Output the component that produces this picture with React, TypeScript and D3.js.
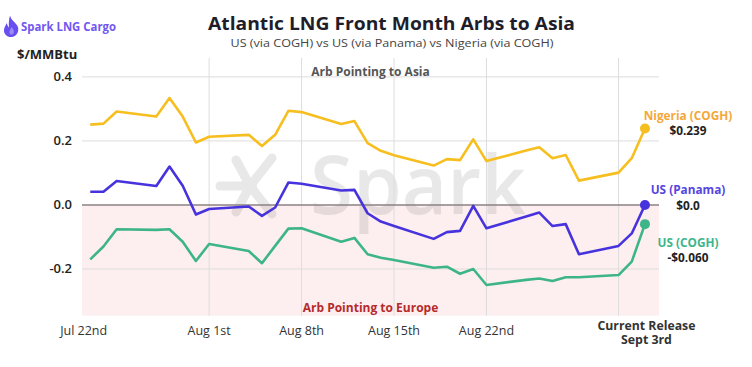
import React from "react";
import * as d3 from "d3";

const dates = ["2025-07-23","2025-07-24","2025-07-25","2025-07-28","2025-07-29","2025-07-30","2025-07-31","2025-08-01","2025-08-04","2025-08-05","2025-08-06","2025-08-07","2025-08-08","2025-08-11","2025-08-12","2025-08-13","2025-08-14","2025-08-15","2025-08-18","2025-08-19","2025-08-20","2025-08-21","2025-08-22","2025-08-25","2025-08-26","2025-08-27","2025-08-28","2025-08-29","2025-09-01","2025-09-02","2025-09-03"];
const nigeriaCOGH = [0.251,0.254,0.292,0.276,0.334,0.276,0.195,0.213,0.219,0.184,0.219,0.294,0.29,0.253,0.262,0.193,0.169,0.155,0.123,0.143,0.14,0.205,0.137,0.17,0.18,0.146,0.156,0.076,0.101,0.146,0.239];
const usPanama = [0.041,0.041,0.075,0.059,0.12,0.06,-0.03,-0.0125,-0.005,-0.034,-0.008,0.07,0.066,0.045,0.047,-0.026,-0.052,-0.066,-0.106,-0.085,-0.081,-0.003,-0.073,-0.036,-0.024,-0.066,-0.06,-0.154,-0.128,-0.089,0.0];
const usCOGH = [-0.17,-0.13,-0.076,-0.078,-0.076,-0.115,-0.175,-0.122,-0.144,-0.182,-0.128,-0.074,-0.073,-0.115,-0.103,-0.154,-0.165,-0.172,-0.196,-0.193,-0.215,-0.2,-0.25,-0.234,-0.23,-0.2375,-0.226,-0.226,-0.219,-0.177,-0.06];

const seriesNames = ["Nigeria (COGH)", "US (Panama)", "US (COGH)"];
const seriesValueLabels = ["$0.239", "$0.0", "-$0.060"];
const yTicks = [0.4, 0.2, 0.0, -0.2];
const yTickLabels = ["0.4", "0.2", "0.0", "-0.2"];
const gridDates = ["2025-08-01","2025-08-08","2025-08-15","2025-08-22","2025-09-01"];
const xTickDates = ["2025-07-22T12:00","2025-08-01","2025-08-08","2025-08-15","2025-08-22"];
const xTickLabels = ["Jul 22nd","Aug 1st","Aug 8th","Aug 15th","Aug 22nd"];
const currentReleaseDate = "2025-09-03";
const currentReleaseLabel = ["Current Release", "Sept 3rd"];

const FONT = "'Open Sans', 'Noto Sans', sans-serif";
const parse = (s: string) => new Date(s.length > 10 ? s + ":00Z" : s + "T00:00:00Z");

const styles = [
  { line: "#F6BE1E", label: "#F4A73A", nameDy: -8.5, valueDy: 6.7 },
  { line: "#4733DD", label: "#5546E0", nameDy: -10.7, valueDy: 5 },
  { line: "#3EB489", label: "#3DB58A", nameDy: 23, valueDy: 38 },
];

export default function App() {
  const W = 752, H = 367;
  const left = 82, right = 659, top = 58, bottom = 315.7;
  const x = d3.scaleUtc()
    .domain([new Date(Date.UTC(2025, 6, 22, 9)), new Date(Date.UTC(2025, 8, 4, 1, 30))])
    .range([left, right]);
  const y = d3.scaleLinear().domain([-0.346, 0.459]).range([bottom, top]);
  const series = [nigeriaCOGH, usPanama, usCOGH];
  const parsed = dates.map(parse);
  const line = d3.line<number>().x((_, i) => x(parsed[i])).y((v) => y(v));
  const last = dates.length - 1;
  const midX = (left + right) / 2;
  const crX = x(parse(currentReleaseDate)) + 1.5;

  return (
    <svg width={W} height={H} style={{ position: "absolute", left: 0, top: 0, background: "#fff" }} fontFamily={FONT}>
      {/* pink region below zero */}
      <rect x={left} y={y(0)} width={right - left} height={bottom - y(0)} fill="#FDEFEF" />
      {/* watermark */}
      <g opacity={0.085} fill="#000" stroke="#000">
        <g strokeWidth={9} strokeLinecap="round" fill="none">
          <line x1={250} y1={186} x2={220} y2={186} />
          <line x1={250} y1={186} x2={236} y2={160} />
          <line x1={250} y1={186} x2={236} y2={212} />
          <line x1={250} y1={186} x2={272} y2={158} />
          <line x1={250} y1={186} x2={272} y2={214} />
        </g>
        <circle cx={250} cy={186} r={7} stroke="none" />
        <text x={310} y={214} fontSize={82} fontWeight={600} stroke="none" textLength={216} lengthAdjust="spacingAndGlyphs">Spark</text>
      </g>
      {/* horizontal grid */}
      {yTicks.filter((t) => t !== 0).map((t) => (
        <line key={t} x1={left} x2={right} y1={y(t)} y2={y(t)} stroke="#DDDDDD" strokeWidth={1} />
      ))}
      {/* vertical grid */}
      {gridDates.map((d) => (
        <line key={d} x1={x(parse(d))} x2={x(parse(d))} y1={top} y2={bottom} stroke="#DDDDDD" strokeWidth={1} />
      ))}
      {/* zero line */}
      <line x1={left} x2={right} y1={y(0)} y2={y(0)} stroke="#8C8282" strokeWidth={1.5} />
      {/* y labels */}
      {yTicks.map((t, i) => (
        <text key={t} x={72} y={y(t) + 4.5} textAnchor="end" fontSize={13} fontWeight={600} fill="#222">{yTickLabels[i]}</text>
      ))}
      <text x={17} y={59} fontSize={13} fontWeight={700} fill="#222">$/MMBtu</text>
      {/* x labels */}
      {xTickDates.map((d, i) => (
        <text key={d} x={x(parse(d))} y={335} textAnchor="middle" fontSize={12.5} fill="#333">{xTickLabels[i]}</text>
      ))}
      <text x={crX} y={329.5} textAnchor="middle" fontSize={11.5} fontWeight={700} fill="#333" textLength={98} lengthAdjust="spacingAndGlyphs">{currentReleaseLabel[0]}</text>
      <text x={crX} y={343.5} textAnchor="middle" fontSize={11.5} fontWeight={700} fill="#333" textLength={51} lengthAdjust="spacingAndGlyphs">{currentReleaseLabel[1]}</text>
      {/* region labels */}
      <text x={midX} y={76} textAnchor="middle" fontSize={12} fontWeight={700} fill="#555">Arb Pointing to Asia</text>
      <text x={midX} y={312} textAnchor="middle" fontSize={12} fontWeight={700} fill="#B52A2A">Arb Pointing to Europe</text>
      {/* lines */}
      {series.map((s, i) => (
        <path key={i} d={line(s) || ""} fill="none" stroke={styles[i].line} strokeWidth={2.6} strokeLinejoin="round" />
      ))}
      {series.map((s, i) => (
        <circle key={i} cx={x(parsed[last])} cy={y(s[last])} r={5} fill={styles[i].line} />
      ))}
      {/* end labels */}
      {series.map((s, i) => (
        <g key={i}>
          <text x={688} y={y(s[last]) + styles[i].nameDy} textAnchor="middle" fontSize={11.8} fontWeight={700} fill={styles[i].label}>{seriesNames[i]}</text>
          <text x={688} y={y(s[last]) + styles[i].valueDy} textAnchor="middle" fontSize={11.8} fontWeight={700} fill="#222">{seriesValueLabels[i]}</text>
        </g>
      ))}
      {/* title */}
      <text x={391.5} y={30} textAnchor="middle" fontSize={18.5} fontWeight={700} fill="#1E1E2A" textLength={367} lengthAdjust="spacingAndGlyphs">Atlantic LNG Front Month Arbs to Asia</text>
      <text x={392} y={47} textAnchor="middle" fontSize={11.5} fill="#444" textLength={323} lengthAdjust="spacingAndGlyphs">US (via COGH) vs US (via Panama) vs Nigeria (via COGH)</text>
      {/* logo */}
      <path d="M10 15.5 C 11 20, 15 22, 17.5 26 C 19.5 30, 17.5 36, 12 37 C 7 37.5, 3.5 34, 4 29.5 C 4.5 26.5, 6 25, 6.5 23 C 7.5 25, 8 27, 9 27.5 C 8.5 23, 9 19, 10 15.5 Z" fill="#6A4FF0" />
      <path d="M11.5 27 C 13.5 29, 14.5 31.5, 13.5 33.5 C 12.5 35, 10 35, 9.5 33 C 9 31, 10.5 29.5, 11.5 27 Z" fill="#9D8AF7" />
      <text x={21} y={30.5} fontSize={12} fontWeight={700} fill="#7257F0" textLength={95} lengthAdjust="spacingAndGlyphs">Spark LNG Cargo</text>
    </svg>
  );
}
